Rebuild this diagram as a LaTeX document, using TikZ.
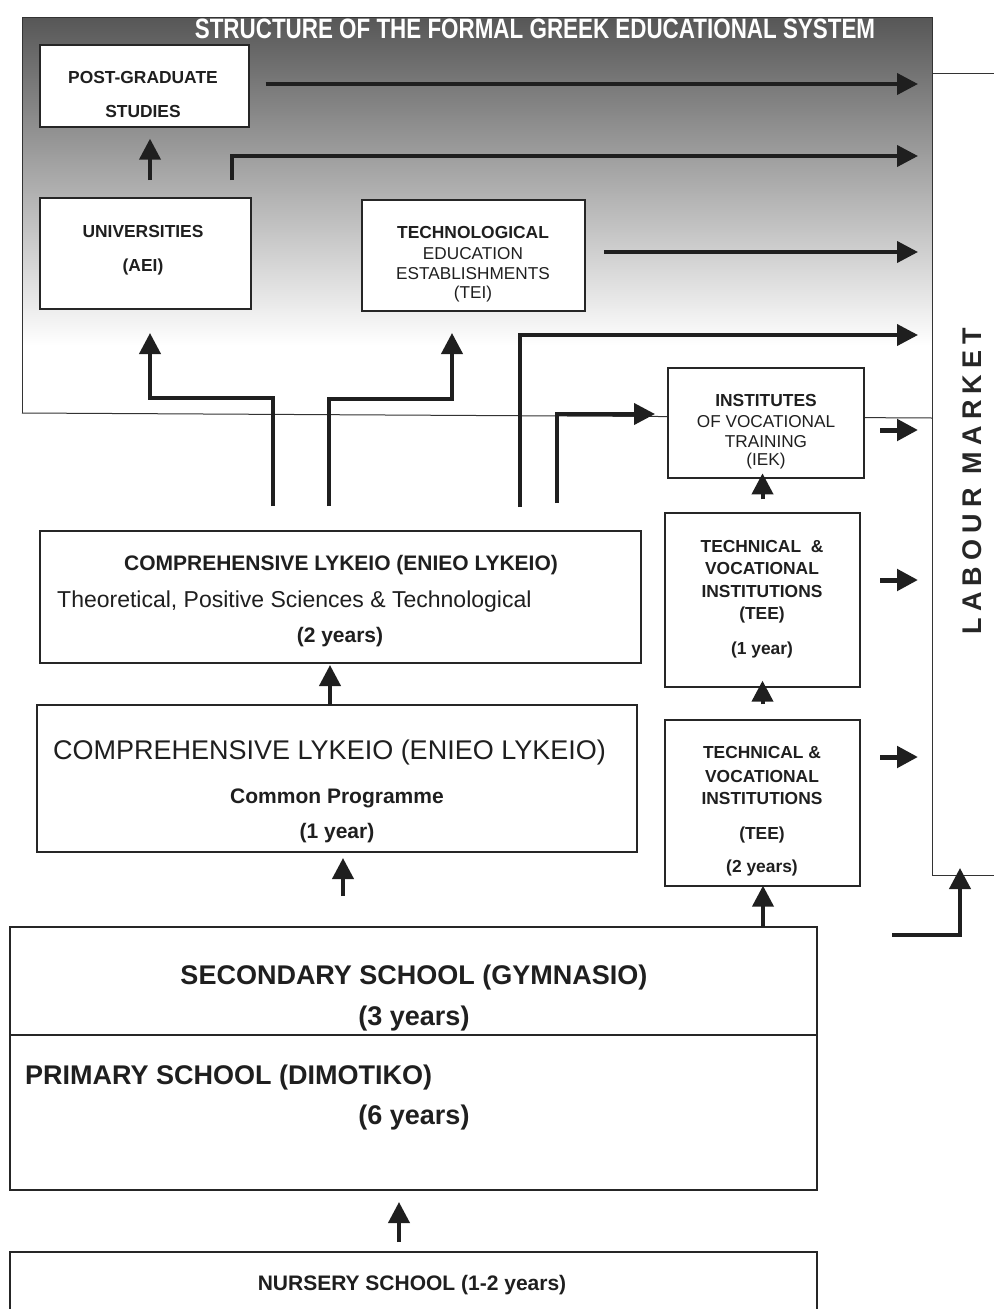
\documentclass[tikz,border=0pt]{standalone}
\usepackage{fontspec}
\setmainfont{Liberation Sans}
\newfontfamily\titlefont[FakeStretch=0.80]{Liberation Sans}
\newfontfamily\labfont[LetterSpace=23]{Liberation Sans}
\usetikzlibrary{arrows.meta,calc,fit}
\begin{document}
\begin{tikzpicture}[x=1pt,y=-1pt,
  box/.style={draw=black!85,line width=1.3pt,fill=white,inner sep=0pt},
  frame/.style={draw=black!80,line width=1pt},
  arr/.style={line width=4pt,draw=black!88,-{Triangle[length=21pt,width=21pt]}},
  stub/.style={line width=5pt,draw=black!88,-{Triangle[length=21pt,width=21pt]}},
  txt/.style={anchor=base,inner sep=0pt,text=black!88},
  b17/.style={txt,font=\fontsize{17.4pt}{20pt}\selectfont\bfseries},
  r17/.style={txt,font=\fontsize{17.2pt}{20pt}\selectfont},
  b21/.style={txt,font=\fontsize{21pt}{24pt}\selectfont\bfseries},
  r23/.style={txt,font=\fontsize{23pt}{26pt}\selectfont},
  r27/.style={txt,font=\fontsize{27pt}{30pt}\selectfont},
  b27/.style={txt,font=\fontsize{27pt}{30pt}\selectfont\bfseries},
]
\useasboundingbox (0,0) rectangle (994,1309);
% background shading and frame
\shade[top color=black!66,middle color=black!38,bottom color=white] (22,17) rectangle (932,345);
\draw[frame] (22,413) -- (22,17) -- (932,17) -- (932,875) -- (994,875);
\draw[frame] (22,413) -- (932,418);
\draw[frame] (932,73) -- (994,73);

% boxes
\node[box,fit={(40,45)(249,127)}] (post) {};
\node[box,fit={(40,198)(251,309)}] (univ) {};
\node[box,fit={(362,200)(585,311)}] (tei) {};
\node[box,fit={(668,368)(864,478)}] (iek) {};
\node[box,fit={(665,513)(860,687)}] (tee1) {};
\node[box,fit={(665,720)(860,886)}] (tee2) {};
\node[box,fit={(40,531)(641,663)}] (lyk2) {};
\node[box,fit={(37,705)(637,852)}] (lyk1) {};
\node[box,fit={(10,927)(817,1190)}] (school) {};
\draw[draw=black!85,line width=1.3pt] (school.west |- 0,1035) -- (school.east |- 0,1035);
\node[box,fit={(10,1252)(817,1330)}] (nursery) {};

% connector end points
\coordinate (lm1) at (918,84);
\coordinate (lm2) at (918,156);
\coordinate (lm3) at (918,252);
\coordinate (lm4) at (918,335);
\coordinate (ub) at (232,180);
\coordinate (up) at (150,180);
\coordinate (tb) at (604,252);
\coordinate (e0) at (520,507);
\coordinate (f0) at (273,506);
\coordinate (f1) at (273,398);
\coordinate (f2) at (150,333);
\coordinate (g0) at (329,506);
\coordinate (g1) at (329,399);
\coordinate (g2) at (452,333);
\coordinate (h0) at (557,503);
\coordinate (h1) at (655,414);
\coordinate (s1) at (880,430);
\coordinate (s2) at (880,580);
\coordinate (s3) at (880,757);
\coordinate (sc1) at (763,927);
\coordinate (l1) at (330,705);
\coordinate (l2) at (343,896);
\coordinate (n1) at (399,1242);
\coordinate (m0) at (892,935);
\coordinate (m1) at (960,868);

% arrows
\draw[arr] ([xshift=16pt,yshift=2pt]post.east) -- (lm1);
\draw[arr] (ub) |- (lm2);
\draw[arr,shorten >=11pt] (up) -- (up |- post.south);
\draw[arr] (tb) -- (lm3);
\draw[arr] (e0) |- (lm4);
\draw[arr] (f0) -- (f1) -| (f2);
\draw[arr] (g0) -- (g1) -| (g2);
\draw[arr] (h0) |- (h1);
\draw[stub] (s1) -- ++(38,0);
\draw[stub] (s2) -- ++(38,0);
\draw[stub] (s3) -- ++(38,0);
\draw[arr] ([yshift=13pt]tee1.north) -- ([yshift=39pt]tee1.north);
\draw[arr] ([yshift=15pt]tee2.north) -- ([yshift=7pt]tee1.south);
\draw[arr,shorten >=-1pt] (sc1) -- (sc1 |- tee2.south);
\draw[arr] (l1) -- ++(0,-40);
\draw[arr] (l2) -- ++(0,-38);
\draw[arr] (n1) -- ++(0,-40);
\draw[arr] (m0) -| (m1);

% texts
\node[txt,text=white,font=\fontsize{28pt}{32pt}\titlefont\bfseries] (title) at (535,38) {STRUCTURE OF THE FORMAL GREEK EDUCATIONAL SYSTEM};
\node[b17] (postA) at (143,83.5) {POST-GRADUATE};
\node[b17] (postB) at (143,117) {STUDIES};
\node[b17] (univA) at (143,237) {UNIVERSITIES};
\node[b17] (univB) at (143,271) {(AEI)};
\node[b17] (teiA) at (473,238) {TECHNOLOGICAL};
\node[r17] (teiB) at (473,259) {EDUCATION};
\node[r17] (teiC) at (473,279) {ESTABLISHMENTS};
\node[r17] (teiD) at (473,298) {(TEI)};
\node[b17] (iekA) at (766,406) {INSTITUTES};
\node[r17] (iekB) at (766,427) {OF VOCATIONAL};
\node[r17] (iekC) at (766,447) {TRAINING};
\node[r17] (iekD) at (766,465) {(IEK)};
\node[b17] (teeA) at (762,552) {TECHNICAL~~\&};
\node[b17] (teeB) at (762,574) {VOCATIONAL};
\node[b17] (teeC) at (762,597) {INSTITUTIONS};
\node[b17] (teeD) at (762,619) {(TEE)};
\node[b17] (teeE) at (762,654) {(1 year)};
\node[b17] (teeF) at (762,758) {TECHNICAL \&};
\node[b17] (teeG) at (762,782) {VOCATIONAL};
\node[b17] (teeH) at (762,804) {INSTITUTIONS};
\node[b17] (teeI) at (762,839) {(TEE)};
\node[b17] (teeJ) at (762,872) {(2 years)};
\node[b21] (lykA) at (341,570.5) {COMPREHENSIVE LYKEIO (ENIEO LYKEIO)};
\node[r23,anchor=base west] (lykB) at (57,607) {Theoretical, Positive Sciences \& Technological};
\node[b21] (lykC) at (340,642.5) {(2 years)};
\node[r27] (lykD) at (329.5,759.5) {COMPREHENSIVE LYKEIO (ENIEO LYKEIO)};
\node[b21] (lykE) at (337,803.5) {Common Programme};
\node[b21] (lykF) at (337,838.5) {(1 year)};
\node[b27] (schA) at (414,984) {SECONDARY SCHOOL (GYMNASIO)};
\node[b27] (schB) at (414,1025) {(3 years)};
\node[b27,anchor=base west] (schC) at (25,1084) {PRIMARY SCHOOL (DIMOTIKO)};
\node[b27] (schD) at (414,1124) {(6 years)};
\node[b21] (nur) at (412,1290) {NURSERY SCHOOL (1-2 years)};
\node[rotate=90,inner sep=0pt,text=black!85,font=\fontsize{27pt}{30pt}\labfont\bfseries] (lab) at (972,481) {LABOUR MARKET};
\end{tikzpicture}
\end{document}
